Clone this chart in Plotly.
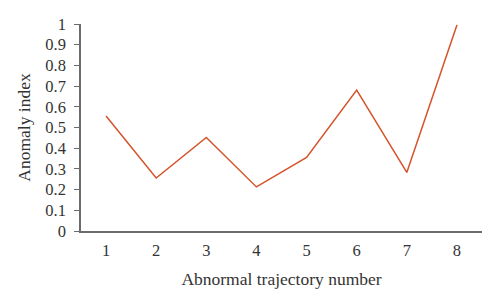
import plotly.graph_objects as go

trajectory = [1, 2, 3, 4, 5, 6, 7, 8]
anomaly_index = [0.556, 0.256, 0.452, 0.213, 0.355, 0.681, 0.283, 0.995]
y_ticks = [0, 0.1, 0.2, 0.3, 0.4, 0.5, 0.6, 0.7, 0.8, 0.9, 1]
y_tick_text = ["0", "0.1", "0.2", "0.3", "0.4", "0.5", "0.6", "0.7", "0.8", "0.9", "1"]

font_family = "Liberation Serif, DejaVu Serif, serif"

fig = go.Figure()
fig.add_trace(go.Scatter(
    x=trajectory, y=anomaly_index, mode="lines",
    line=dict(color="#D5532B", width=1.5),
    showlegend=False,
))

fig.update_layout(
    width=500, height=307,
    margin=dict(l=81, r=18, t=24, b=76),
    paper_bgcolor="white", plot_bgcolor="white",
    font=dict(family=font_family, size=16.5, color="#333333"),
    xaxis=dict(
        range=[0.5, 8.5], tickvals=trajectory,
        ticktext=[str(t) for t in trajectory],
        showline=True, linecolor="#6b6b6b", linewidth=1.5,
        showgrid=False, zeroline=False, ticks="",
        ticklabelstandoff=3,
        title=dict(text="Abnormal trajectory number", standoff=14,
                   font=dict(size=17.5)),
    ),
    yaxis=dict(
        range=[0, 1], tickvals=y_ticks, ticktext=y_tick_text,
        showline=True, linecolor="#6b6b6b", linewidth=1.5,
        showgrid=False, zeroline=False,
        ticks="outside", ticklen=5, tickcolor="#6b6b6b", tickwidth=1.2,
        ticklabelstandoff=5,
        title=dict(text="Anomaly index", standoff=10,
                   font=dict(size=17.5)),
    ),
)

fig.write_html("out.html")
